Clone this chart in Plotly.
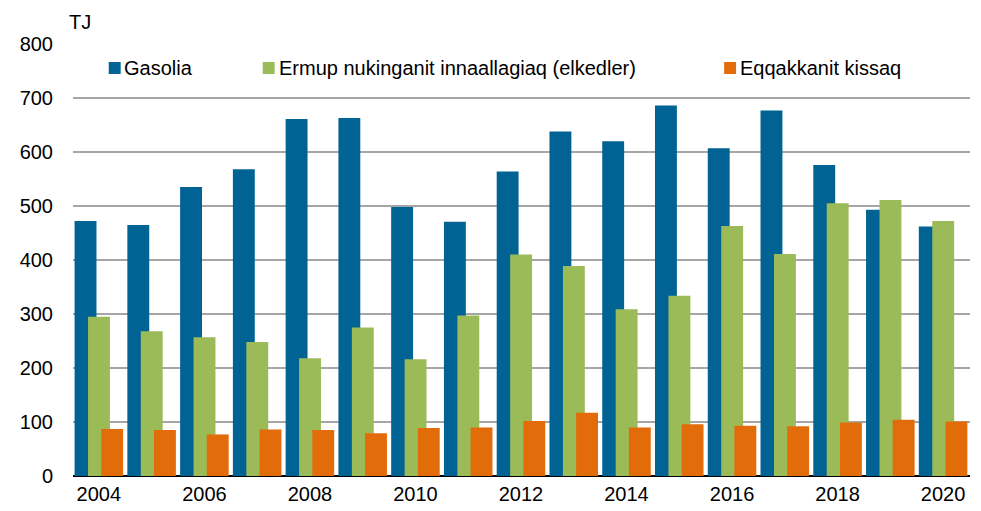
import plotly.graph_objects as go

years = list(range(2004, 2021))
gasolia = [472, 465, 535, 568, 661, 663, 498, 471, 564, 638, 620, 686, 607, 677, 576, 493, 462]
elkedler = [295, 268, 257, 248, 218, 275, 216, 297, 410, 389, 309, 334, 463, 411, 505, 511, 472]
kissaq = [87, 85, 77, 86, 85, 79, 89, 90, 102, 117, 90, 96, 93, 92, 99, 104, 101]
names = ["Gasolia", "Ermup nukinganit innaallagiaq (elkedler)", "Eqqakkanit kissaq"]
colors = ["#006394", "#9BBB59", "#E36C0A"]
offsets = [-0.46, -0.205, 0.045]
width = 0.415

# plot area in page pixels (for converting legend positions)
PX0, PX1, PY0, PY1 = 67, 970, 44, 476
def px(x):
    return (x - PX0) / (PX1 - PX0)
def py(y):
    return (PY1 - y) / (PY1 - PY0)

fig = go.Figure()
for vals, name, col, off in zip([gasolia, elkedler, kissaq], names, colors, offsets):
    fig.add_trace(go.Bar(x=years, y=vals, name=name, offset=off, width=width,
                         marker=dict(color=col, line=dict(width=0))))

legend_marker_x = [103, 258, 722.5]
legend_text_x = [116, 272, 736]
shapes = []
annotations = []
for mx, tx, name, col in zip(legend_marker_x, legend_text_x, names, colors):
    shapes.append(dict(type="rect", xref="paper", yref="paper", x0=px(mx), x1=px(mx + 12),
                       y0=py(74), y1=py(62), fillcolor=col, line=dict(width=0)))
    annotations.append(dict(text=name, xref="paper", yref="paper", x=px(tx), y=py(68.5),
                            xanchor="left", yanchor="middle", showarrow=False,
                            font=dict(size=20)))
annotations.append(dict(text="TJ", xref="paper", yref="paper", x=px(61), y=py(22),
                        xanchor="left", yanchor="middle", showarrow=False, font=dict(size=20)))

fig.update_layout(
    barmode="overlay",
    width=981, height=511,
    margin=dict(l=59, r=19, t=36, b=43),
    paper_bgcolor="white", plot_bgcolor="white",
    font=dict(family="Liberation Sans, Arial, sans-serif", size=20, color="#000"),
    showlegend=False,
    xaxis=dict(range=[2003.51, 2020.51], tickmode="array", tickvals=list(range(2004, 2021, 2)),
               ticktext=[str(y) for y in range(2004, 2021, 2)], showgrid=False,
               showline=False, zeroline=False, ticks="", ticklabelstandoff=4),
    yaxis=dict(range=[0, 800], tickvals=list(range(0, 801, 100)), showgrid=True,
               gridcolor="#A6A6A6", gridwidth=1.5, zeroline=True, zerolinecolor="#000",
               zerolinewidth=2, showline=False, ticklabelstandoff=19),
    shapes=shapes,
    annotations=annotations,
)
fig.write_html("out.html")
